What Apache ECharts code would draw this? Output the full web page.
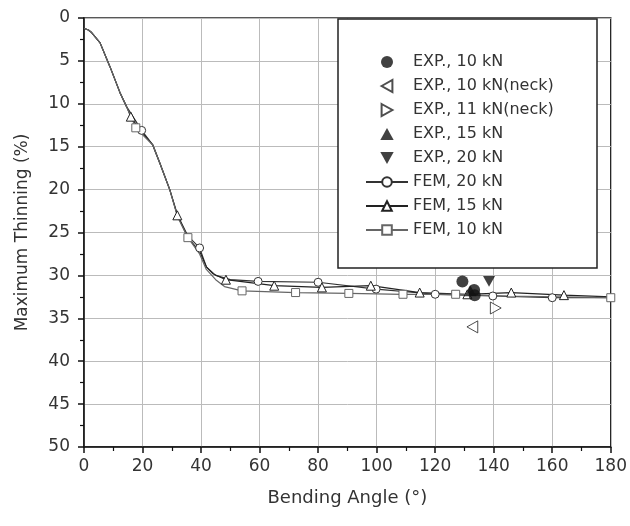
<!DOCTYPE html>
<html>
<head>
    <meta charset="utf-8">
    <title>Maximum Thinning</title>
    <script src="https://cdn.jsdelivr.net/npm/echarts@6/dist/echarts.min.js"></script>
    <style>
        html, body { margin: 0; padding: 0; background: #fff; }
        #chart { width: 630px; height: 526px; }
    </style>
</head>
<body>
    <div id="chart"></div>
    <script>
        // shared start of the three FEM curves (line only)
        var startX = [0, 1.5, 2.6, 5.5, 8.9, 12.3, 14.5];
        var startY = [1.2, 1.4, 1.7, 2.9, 5.7, 8.7, 10.3];

        // FEM curves: x, y, marker flag (1 = draw marker)
        var fem20X = [19.7, 23.5, 25.9, 29.3, 32, 35.5, 39.5, 41.8, 45, 50, 59.5, 80, 99.8, 120, 139.7, 160, 180];
        var fem20Y = [13.1, 14.8, 16.9, 20, 23, 25.4, 26.8, 29, 30, 30.5, 30.7, 30.8, 31.6, 32.2, 32.4, 32.6, 32.6];
        var fem20M = [1, 0, 0, 0, 0, 0, 1, 0, 0, 0, 1, 1, 1, 1, 1, 1, 0];

        var fem15X = [16, 19, 23.5, 25.9, 29.3, 31.9, 35.5, 39.5, 41.8, 44, 48.5, 65, 81.3, 98, 114.7, 131, 146, 164, 180];
        var fem15Y = [11.5, 13, 14.8, 16.9, 20, 23, 25.6, 27.2, 29, 29.8, 30.5, 31.2, 31.4, 31.2, 32, 32.2, 32, 32.3, 32.5];
        var fem15M = [1, 0, 0, 0, 0, 1, 0, 0, 0, 0, 1, 1, 1, 1, 1, 1, 1, 1, 0];

        var fem10X = [17.7, 23.5, 25.9, 29.3, 32, 35.5, 39.5, 41.8, 45, 48, 54, 72.3, 90.5, 109, 127, 145, 162, 180];
        var fem10Y = [12.8, 14.8, 16.9, 20, 23.2, 25.6, 27.5, 29.3, 30.5, 31.3, 31.8, 32, 32.1, 32.2, 32.2, 32.4, 32.5, 32.6];
        var fem10M = [1, 0, 0, 0, 0, 1, 0, 0, 0, 0, 1, 1, 1, 1, 1, 0, 0, 1];

        // experiments
        var exp10 = [[129.3, 30.7], [133.3, 31.7], [133.5, 32.3]];
        var exp10Neck = [[132.7, 36]];
        var exp11Neck = [[140.7, 33.8]];
        var exp15 = [[132, 31.8]];
        var exp20 = [[138.4, 30.7]];

        var font = 'DejaVu Sans, Verdana, sans-serif';

        // triangle shapes as paths so the legend keeps their aspect
        var triUp = 'path://M5,0 L10,9 L0,9 Z';
        var triDown = 'path://M0,0 L10,0 L5,9 Z';
        var triLeft = 'path://M0,5 L9,0 L9,10 Z';
        var triRight = 'path://M0,0 L9,5 L0,10 Z';

        function femData(xs, ys, ms) {
            var data = [];
            for (var i = 0; i < startX.length; i++) {
                data.push({ value: [startX[i], startY[i]], symbol: 'none' });
            }
            for (var j = 0; j < xs.length; j++) {
                var item = { value: [xs[j], ys[j]] };
                if (!ms[j]) item.symbol = 'none';
                data.push(item);
            }
            return data;
        }

        function femSeries(name, symbol, size, xs, ys, ms, color) {
            return {
                name: name,
                type: 'line',
                data: femData(xs, ys, ms),
                symbol: symbol,
                symbolSize: size,
                showAllSymbol: true,
                lineStyle: { color: color, width: 1.2 },
                itemStyle: { color: '#fff', borderColor: color, borderWidth: 1 },
                z: 3
            };
        }

        function expSeries(name, symbol, data, filled) {
            return {
                name: name,
                type: 'scatter',
                data: data,
                symbol: symbol,
                symbolKeepAspect: true,
                symbolSize: 12,
                itemStyle: filled ? { color: '#111' } : { color: '#fff', borderColor: '#222', borderWidth: 1 },
                z: 5
            };
        }

        var chart = echarts.init(document.getElementById('chart'));

        var option = {
            animation: false,
            backgroundColor: '#fff',
            textStyle: { fontFamily: font },
            grid: {
                left: 84, right: 18, top: 18, bottom: 79,
                show: true, borderColor: '#222', borderWidth: 1.5
            },
            graphic: [{
                type: 'rect',
                shape: { x: 338, y: 19, width: 259, height: 249 },
                style: { fill: '#fff', stroke: '#222', lineWidth: 1.5 },
                z: 3
            }],
            legend: {
                orient: 'vertical',
                left: 360,
                top: 49,
                itemWidth: 42,
                itemHeight: 12,
                itemGap: 8,
                symbolKeepAspect: true,
                z: 10,
                textStyle: { fontSize: 16, color: '#333', fontFamily: font },
                data: ['EXP., 10 kN', 'EXP., 10 kN(neck)', 'EXP., 11 kN(neck)', 'EXP., 15 kN', 'EXP., 20 kN',
                    'FEM, 20 kN', 'FEM, 15 kN', 'FEM, 10 kN']
            },
            xAxis: {
                type: 'value',
                min: 0, max: 180, interval: 20,
                name: 'Bending Angle (°)',
                nameLocation: 'middle',
                nameGap: 42,
                nameTextStyle: { fontSize: 18, color: '#333' },
                axisLine: { onZero: false, lineStyle: { color: '#111', width: 1.5 } },
                axisTick: { length: 6, lineStyle: { color: '#111', width: 1.5 } },
                minorTick: { show: true, splitNumber: 2, length: 4, lineStyle: { color: '#111', width: 1.2 } },
                axisLabel: { fontSize: 17, color: '#333', margin: 11 },
                splitLine: { lineStyle: { color: '#bbb', width: 1 } }
            },
            yAxis: {
                type: 'value',
                inverse: true,
                min: 0, max: 50, interval: 5,
                name: 'Maximum Thinning (%)',
                nameLocation: 'middle',
                nameGap: 53,
                nameTextStyle: { fontSize: 17, color: '#333' },
                axisLine: { onZero: false, lineStyle: { color: '#111', width: 1.5 } },
                axisTick: { length: 6, lineStyle: { color: '#111', width: 1.5 } },
                minorTick: { show: true, splitNumber: 2, length: 4, lineStyle: { color: '#111', width: 1.2 } },
                axisLabel: { fontSize: 17, color: '#333', margin: 14 },
                splitLine: { lineStyle: { color: '#bbb', width: 1 } }
            },
            series: [
                femSeries('FEM, 20 kN', 'circle', 8, fem20X, fem20Y, fem20M, '#333'),
                femSeries('FEM, 15 kN', 'triangle', 9, fem15X, fem15Y, fem15M, '#222'),
                femSeries('FEM, 10 kN', 'rect', 8, fem10X, fem10Y, fem10M, '#666'),
                expSeries('EXP., 10 kN', 'circle', exp10, true),
                expSeries('EXP., 10 kN(neck)', triLeft, exp10Neck, false),
                expSeries('EXP., 11 kN(neck)', triRight, exp11Neck, false),
                expSeries('EXP., 15 kN', triUp, exp15, true),
                expSeries('EXP., 20 kN', triDown, exp20, true)
            ]
        };

        chart.setOption(option);
    </script>
</body>
</html>
